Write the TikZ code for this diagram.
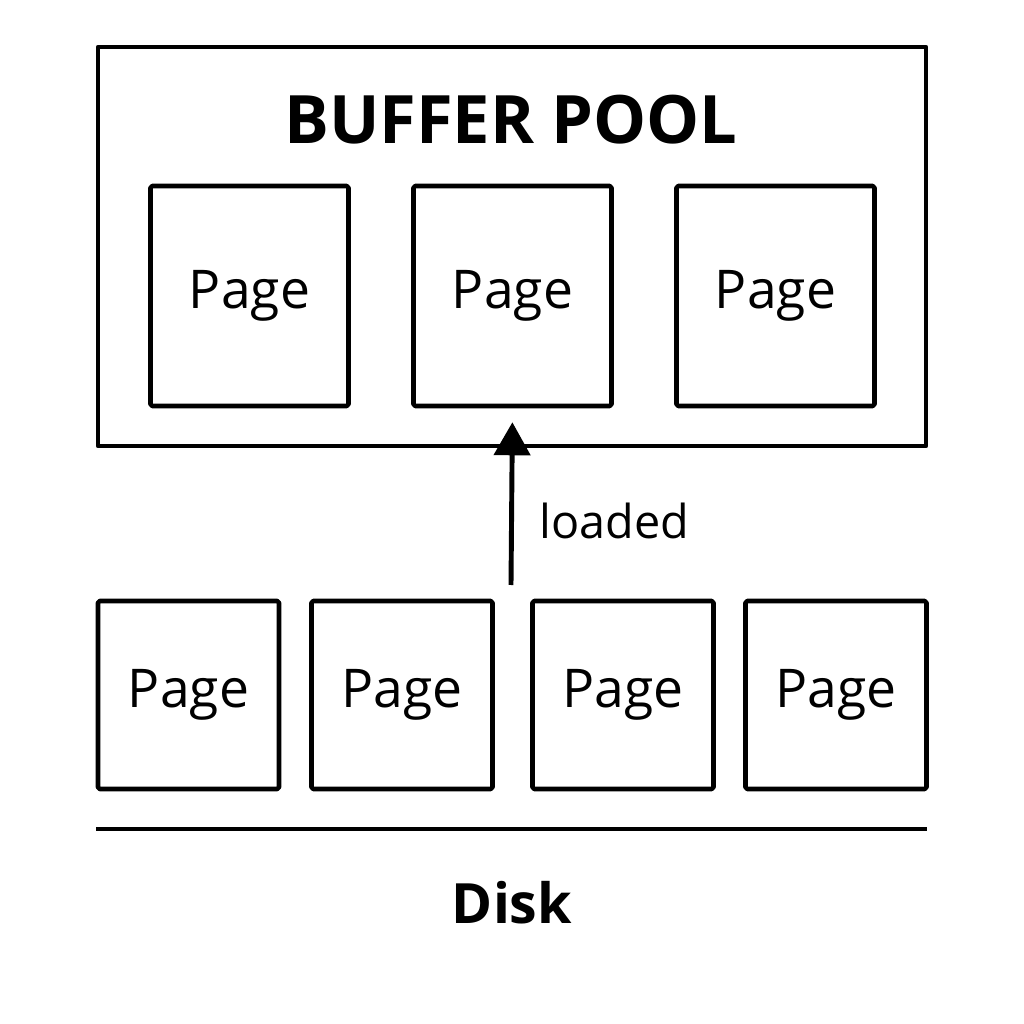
\documentclass[tikz,border=0pt]{standalone}
\usepackage{fontspec}
\setmainfont{Open Sans}
\usepackage{tikz}
\usetikzlibrary{arrows.meta}

\begin{document}
\begin{tikzpicture}[>={Triangle[width=0.36cm,length=0.33cm]},line width=1.3pt,line join=round,node distance=2.63cm]
\useasboundingbox[fill=white] (0,0) rectangle (10.24,10.24);
\tikzstyle{every node}=[text=black]
\tikzstyle{poolbox}=[draw,minimum width=8.28cm,minimum height=3.99cm]
\tikzstyle{pagebox}=[draw,rounded corners=0.5pt,minimum width=1.98cm,minimum height=2.2cm,font=\fontsize{15.2}{17}\selectfont]
\tikzstyle{diskpage}=[pagebox,minimum width=1.81cm,minimum height=1.88cm]
\tikzstyle{title}=[font=\fontsize{19}{22}\selectfont\bfseries]

% buffer pool
\node[poolbox]       (pool)  at (5.12,7.775) {};
\node[title]         (poolname) at (5.11,9.04) {BUFFER POOL};
\node[pagebox]       (B2) at (5.125,7.28) {Page};
\node[pagebox]       (B1) [left of=B2] {Page};
\node[pagebox]       (B3) [right of=B2] {Page};

% disk
\node[diskpage]      (D1) at (1.885,3.29) {Page};
\node[diskpage]      (D2) at (4.02,3.29) {Page};
\node[diskpage]      (D3) at (6.23,3.29) {Page};
\node[diskpage]      (D4) at (8.36,3.29) {Page};
\coordinate          (dl) at (0.96,1.95);
\coordinate          (dr) at (9.27,1.95);
\node[title,font=\fontsize{15.8}{19}\selectfont\bfseries] (disk) at (5.12,1.21) {Disk};

\coordinate (src) at (5.11,4.39);
\draw (dl) -- (dr);
\draw[->,shorten >=0.14cm,line width=1.4pt] (src) -- (B2.south)
  node[pos=0.36,right=0.14cm,font=\fontsize{13.3}{15}\selectfont] (lbl) {loaded};
\end{tikzpicture}
\end{document}
